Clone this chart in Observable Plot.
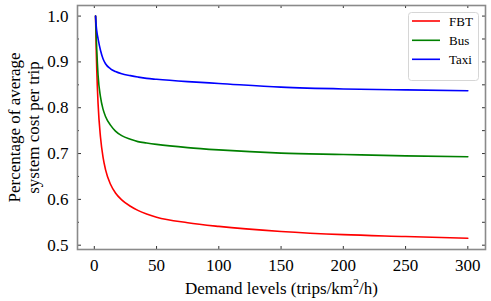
<!DOCTYPE html>
<html><head><meta charset="utf-8">
<script src="https://cdn.jsdelivr.net/npm/d3@7"></script>
<script src="https://cdn.jsdelivr.net/npm/@observablehq/plot@0.6"></script>
<style>
body{margin:0;background:#fff;}
#wrap{position:relative;width:491px;height:301px;}
#legend{position:absolute;left:0;top:0;pointer-events:none;}
#wrap svg text{font-family:"Liberation Serif",serif !important;font-variant:normal !important;font-variant-numeric:normal !important;}
</style>
</head><body>
<div id="wrap"></div>
<script>
// Demand levels (trips/km²/h)
const xs   = [1, 1.5, 2, 3, 5, 7, 9, 13, 17, 22, 29, 35, 42, 50, 75, 100, 150, 200, 250, 300];
const fbt  = [1.0, 0.93, 0.88, 0.81, 0.735, 0.692, 0.665, 0.633, 0.614, 0.599, 0.585, 0.576, 0.568, 0.561, 0.549, 0.541, 0.530, 0.523, 0.519, 0.515];
const bus  = [1.0, 0.96, 0.925, 0.872, 0.823, 0.797, 0.781, 0.762, 0.749, 0.739, 0.731, 0.726, 0.723, 0.720, 0.713, 0.708, 0.701, 0.698, 0.695, 0.693];
const taxi = [1.0, 0.98, 0.967, 0.951, 0.925, 0.907, 0.896, 0.885, 0.879, 0.874, 0.870, 0.867, 0.864, 0.862, 0.857, 0.853, 0.845, 0.841, 0.839, 0.837];
const seriesNames  = ["FBT", "Bus", "Taxi"];
const seriesColors = ["#ff0000", "#008000", "#0000ff"];
const xTicks = [0, 50, 100, 150, 200, 250, 300];
const yMajor = [0.5, 0.6, 0.7, 0.8, 0.9, 1.0];
const yMinor = [0.55, 0.65, 0.75, 0.85, 0.95];
const xLabel = "Demand levels (trips/km2/h)";
const yLabel = "Percentage of average\nsystem cost per trip";

const seriesValues = [fbt, bus, taxi];
const rows = seriesNames.flatMap((s, k) => xs.map((x, i) => ({series: s, x, y: seriesValues[k][i]})));

const width = 491, height = 301;
const mL = 77, mR = 6, mT = 5, mB = 52;
const W = width - mL - mR, H = height - mT - mB;
const tickColor = "#333";
const serif = "Liberation Serif";

const chart = Plot.plot({
  width, height,
  marginLeft: mL, marginRight: mR, marginTop: mT, marginBottom: mB,
  style: {fontFamily: serif, fontSize: "17px", background: "#fff", color: "#000"},
  x: {domain: [-13.5, 314.2]},
  y: {domain: [0.4906, 1.0231]},
  color: {domain: seriesNames, range: seriesColors},
  marks: [
    Plot.axisX({ticks: xTicks, tickSize: 0, tickPadding: 9, label: null, fontSize: 17}),
    Plot.axisY({ticks: yMajor, tickSize: 0, tickPadding: 9, label: null, tickFormat: d3.format(".1f"), fontSize: 17}),
    Plot.line(rows, {x: "x", y: "y", stroke: "series", z: "series", curve: "monotone-x", strokeWidth: 1.6}),
    Plot.ruleX(xTicks, {x: d => d, insetTop: H - 3, stroke: tickColor}),
    Plot.ruleX(xTicks, {x: d => d, insetBottom: H - 3, stroke: tickColor}),
    Plot.ruleY(yMajor, {y: d => d, insetRight: W - 4, stroke: tickColor}),
    Plot.ruleY(yMinor, {y: d => d, insetRight: W - 2, stroke: tickColor}),
    Plot.ruleY(yMajor.concat(yMinor), {y: d => d, insetLeft: W - 3, stroke: tickColor}),
    Plot.frame({stroke: "#8a8a8a", strokeWidth: 1.6}),
    Plot.text([xLabel], {text: d => d, frameAnchor: "bottom", dy: 44, lineAnchor: "bottom", textAnchor: "middle", fontSize: 17}),
    Plot.text([yLabel], {text: d => d, frameAnchor: "left", rotate: -90, dx: -54.5, lineAnchor: "middle", textAnchor: "middle", lineHeight: 1.14, fontSize: 17})
  ]
});
document.getElementById("wrap").appendChild(chart);

// serif everywhere (axis text groups)
d3.select(chart).selectAll("g").attr("font-family", serif);
d3.select(chart).selectAll("text").attr("font-family", serif);

// superscript in x label
d3.select(chart).selectAll("text").filter(function () { return this.textContent === xLabel; }).each(function () {
  const t = d3.select(this);
  t.text(null);
  t.append("tspan").text("Demand levels (trips/km");
  t.append("tspan").attr("dy", -7).attr("font-size", 12).text("2");
  t.append("tspan").attr("dy", 7).text("/h)");
});

// legend (overlay)
const lg = d3.select("#wrap").append("svg").attr("id", "legend").attr("width", width).attr("height", height);
lg.append("rect").attr("x", 408.5).attr("y", 12.5).attr("width", 70).attr("height", 68).attr("rx", 3)
  .attr("fill", "rgba(255,255,255,0.85)").attr("stroke", "#d6d6d6");
const rowY = [21, 40.3, 59.3];
seriesNames.forEach((s, i) => {
  lg.append("line").attr("x1", 412).attr("x2", 440).attr("y1", rowY[i]).attr("y2", rowY[i])
    .attr("stroke", seriesColors[i]).attr("stroke-width", 1.6);
  lg.append("text").attr("x", 449).attr("y", rowY[i]).attr("dy", "0.35em")
    .attr("font-family", serif).attr("font-size", 13).attr("fill", "#000").text(s);
});
</script>
</body></html>
